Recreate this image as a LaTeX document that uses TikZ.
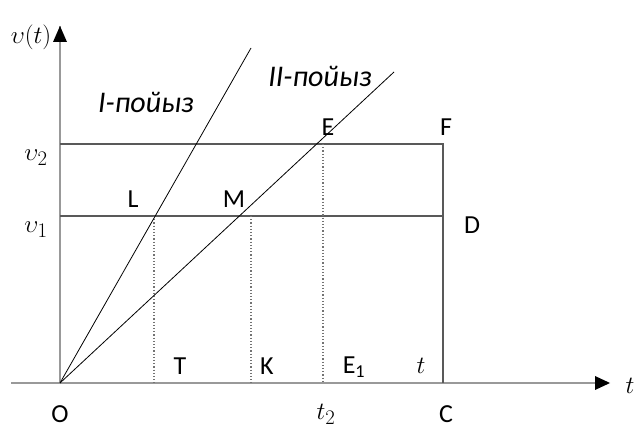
\documentclass[tikz,border=0pt]{standalone}
\usepackage{fontspec}
\setmainfont{Carlito}
\usetikzlibrary{arrows.meta}
\begin{document}
\begin{tikzpicture}[x=1pt,y=-1pt,
  axis/.style={draw=black!40,line width=1.6pt},
  frame/.style={draw=black!65,line width=1.2pt},
  train/.style={draw=black,line width=0.8pt},
  guide/.style={draw=black!55,line width=1.2pt,dotted},
  lab/.style={font=\fontsize{26}{30}\selectfont,inner sep=0pt},
  ital/.style={font=\fontsize{30}{34}\selectfont\itshape,inner sep=0pt},
  mth/.style={font=\fontsize{28}{32}\selectfont,inner sep=0pt}]
\useasboundingbox (0,0) rectangle (643,430);
\coordinate (O) at (60,383);
\coordinate (Ytop) at (60,26);
\coordinate (Xl) at (11,383);
\coordinate (Xr) at (610,383);
\coordinate (V2) at (60,144);
\coordinate (V1) at (60,216);
\coordinate (F) at (443,144);
\coordinate (Dp) at (443,216);
\coordinate (C) at (443,383);
\coordinate (Lp) at (154,216);
\coordinate (Mp) at (251,216);
\coordinate (Ep) at (323,144);
\coordinate (Tp) at (154,383);
\coordinate (Kp) at (251,383);
\coordinate (E1p) at (323,383);
\coordinate (Itop) at (251,48);
\coordinate (IItop) at (394,72);
% axes
\draw[axis] (O) -- (Ytop);
\fill[black] (60,26) -- (53,42) -- (67,42) -- cycle;
\draw[axis] (Xl) -- (596,383);
\fill[black] (Xr) -- (595,376) -- (595,390) -- cycle;
% frame
\draw[frame] (V2) -- (F) -- (C);
\draw[frame] (V1) -- (Dp);
% guides
\draw[guide] (Lp) -- (Tp);
\draw[guide] (Mp) -- (Kp);
\draw[guide] (Ep) -- (E1p);
% train lines
\draw[train] (O) -- (Itop);
\draw[train] (O) -- (IItop);
% labels
\node[mth] (vt) at (31,37) {$\upsilon(t)$};
\node[mth] (v2) at (36,158) {$\upsilon_2$};
\node[mth] (v1) at (36,230) {$\upsilon_1$};
\node[mth] (tx) at (630,386) {$t$};
\node[mth] (t2) at (326,414) {$t_2$};
\node[mth] (tt) at (421,366) {$t$};
\node[ital] (I) at (146,102) {I-пойыз};
\node[ital] (II) at (320,76) {II-пойыз};
\node[lab] (Elab) at (328,127) {E};
\node[lab] (Flab) at (446,127) {F};
\node[lab] (Llab) at (133,199) {L};
\node[lab] (Mlab) at (234,199) {M};
\node[lab] (Dlab) at (472,225) {D};
\node[lab] (Tlab) at (180,366) {T};
\node[lab] (Klab) at (267,366) {K};
\node[lab] (E1lab) at (354,367) {E\textsubscript{1}};
\node[lab] (Olab) at (60,414) {O};
\node[lab] (Clab) at (446,414) {C};
\end{tikzpicture}
\end{document}
